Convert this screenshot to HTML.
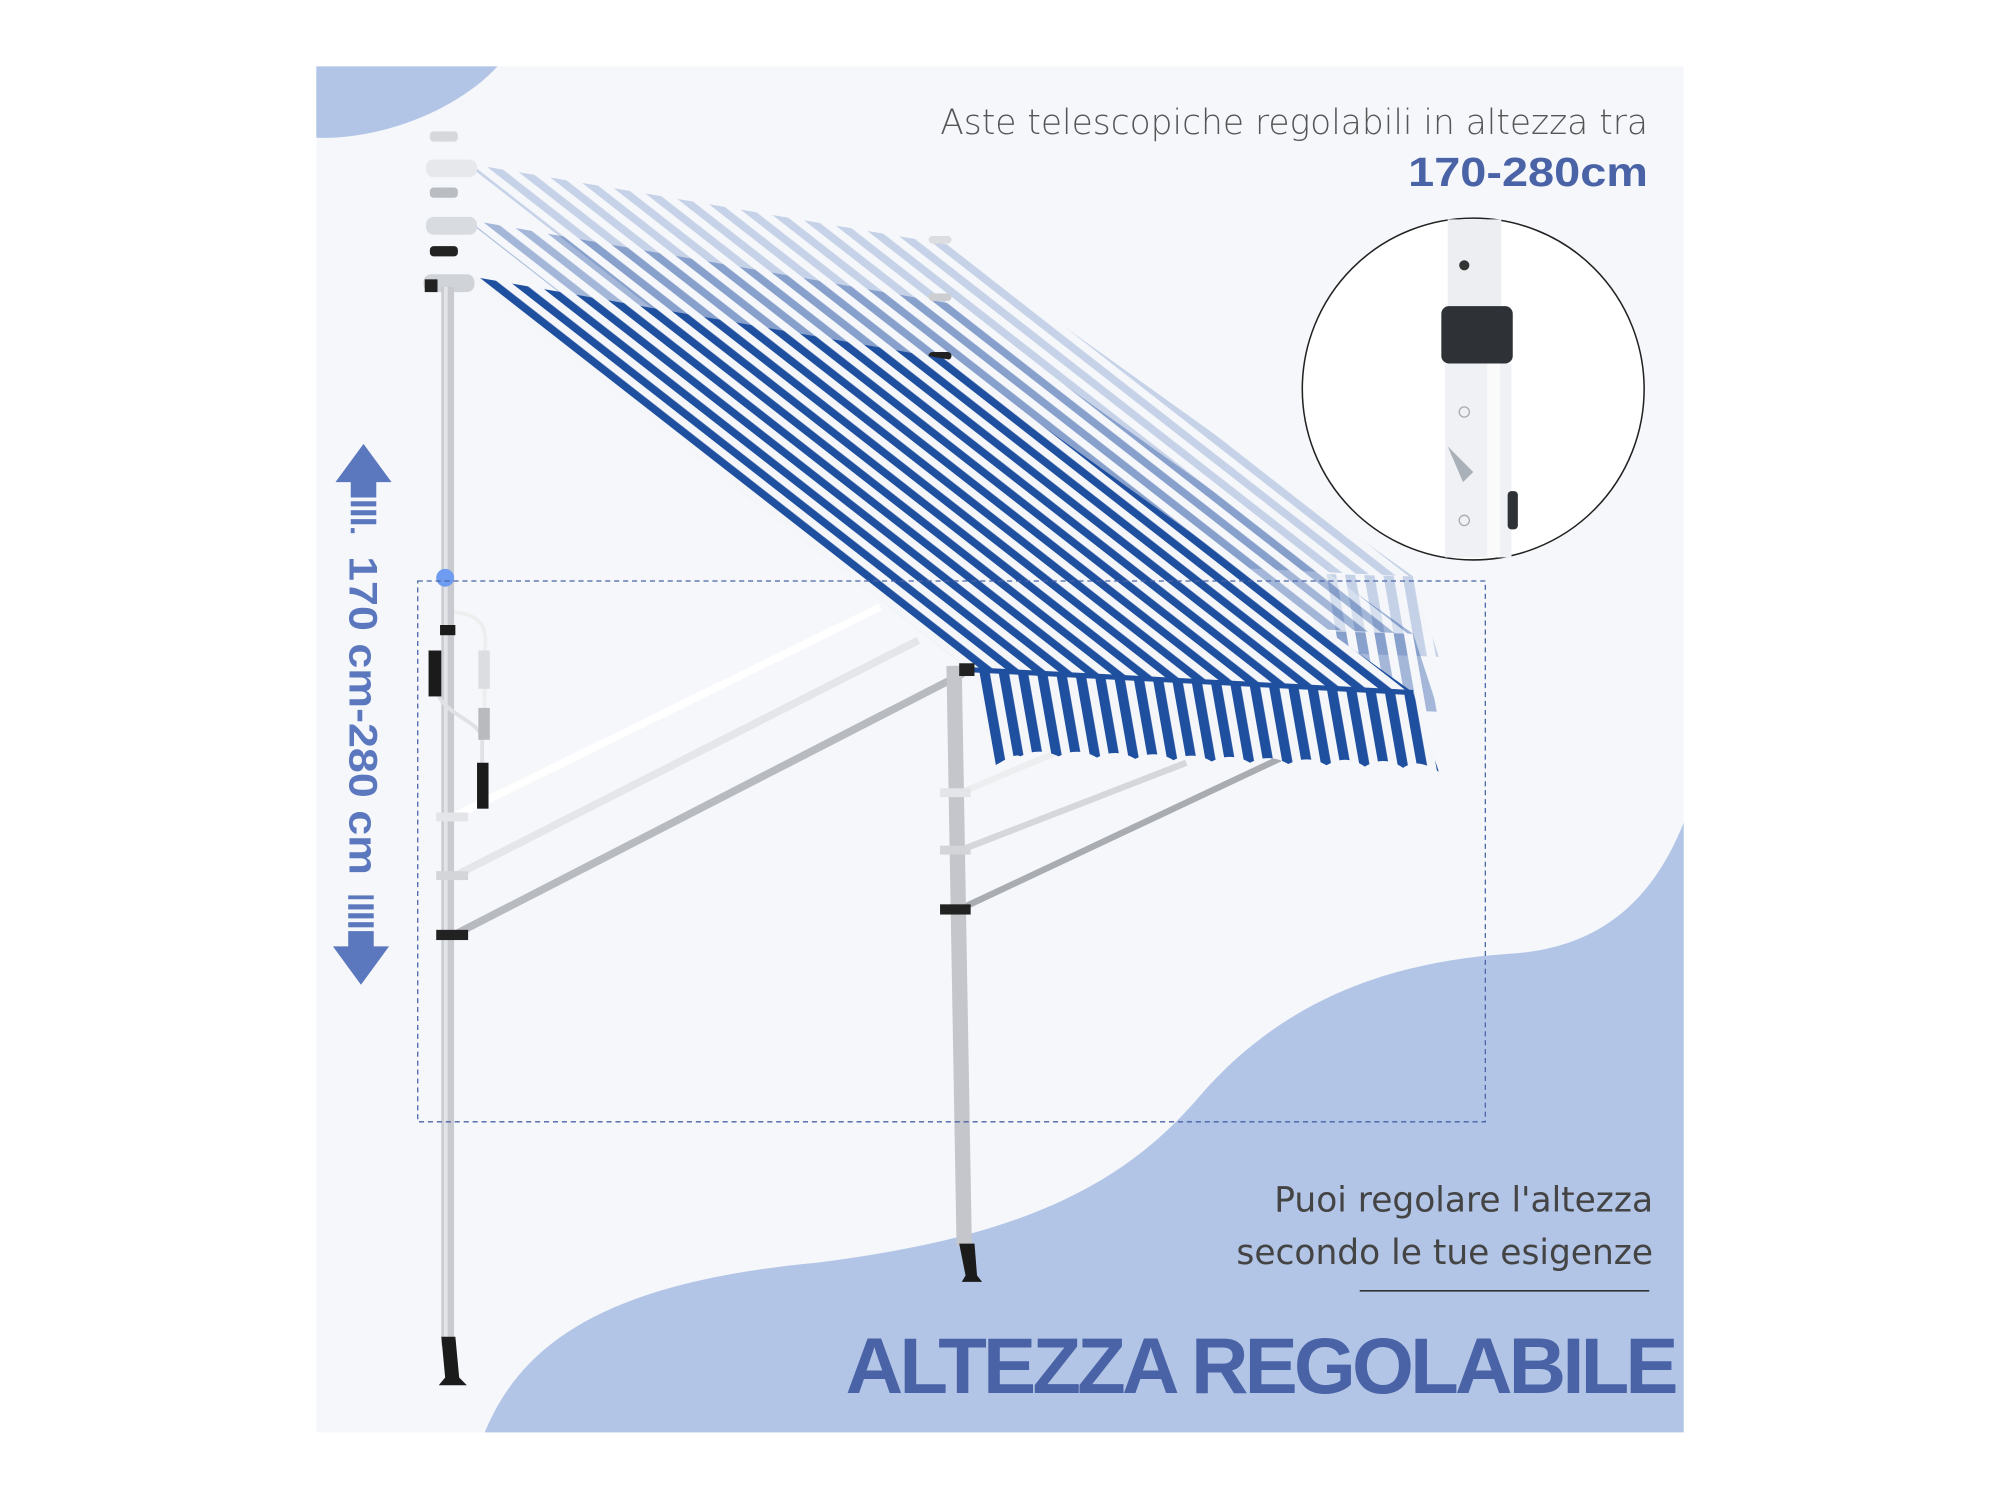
<!DOCTYPE html>
<html><head><meta charset="utf-8"><style>
html,body{margin:0;padding:0;background:#fff;}
svg{display:block}
</style></head><body>
<svg width="2000" height="1500" viewBox="0 0 1568 1176" preserveAspectRatio="none" xmlns="http://www.w3.org/2000/svg">
<defs>
<pattern id="st" width="12" height="12" patternUnits="userSpaceOnUse" patternTransform="rotate(-52)">
<rect width="12" height="12" fill="#f4f6fa"/><rect width="6" height="12" fill="#1f4f9f"/>
</pattern>
<pattern id="stv" width="15" height="20" patternUnits="userSpaceOnUse" patternTransform="skewX(10)">
<rect width="15" height="20" fill="#f4f6fa"/><rect width="8" height="20" fill="#1f4f9f"/>
</pattern>
</defs>
<rect x="0" y="0" width="1568" height="1176" fill="#fff"/>
<rect x="248" y="52" width="1072" height="1071" fill="#f5f7fb"/>
<path d="M248,52 L390,52 C360,85 300,110 248,108 Z" fill="#b2c5e6"/>
<path d="M1320,645 C1290,720 1240,745 1180,748 C1080,755 1000,790 940,860 C880,930 800,970 640,990 C480,1005 410,1050 380,1123 L1320,1123 Z" fill="#b2c5e6"/>

<!-- ghost awnings -->
<g opacity="0.22">
<polygon points="365,128 745,192 1108,452 760,435" fill="url(#st)"/>
<polygon points="1040,450 1108,452 1128,515 1050,512" fill="url(#stv)"/>
</g>
<g opacity="0.38">
<polygon points="365,172 745,238 1108,497 760,480" fill="url(#st)"/>
<polygon points="1040,495 1108,497 1128,558 1050,555" fill="url(#stv)"/>
</g>
<rect x="334" y="125" width="40" height="14" rx="6" fill="#e6e8ec"/>
<rect x="334" y="170" width="40" height="14" rx="6" fill="#d8dbe0"/>
<rect x="337" y="103" width="22" height="8" rx="3" fill="#d6d8dc"/>
<rect x="337" y="147" width="22" height="8" rx="3" fill="#b9bcc1"/>
<rect x="337" y="193" width="22" height="8" rx="3" fill="#222"/>
<rect x="728" y="185" width="18" height="6" rx="3" fill="#dcdde0"/>
<rect x="728" y="230" width="18" height="6" rx="3" fill="#ccced2"/>
<rect x="728" y="276" width="18" height="6" rx="3" fill="#222"/>

<!-- arms -->
<line x1="356" y1="640" x2="690" y2="476" stroke="#fff" stroke-width="6"/>
<line x1="356" y1="687" x2="720" y2="502" stroke="#e4e6ea" stroke-width="6"/>
<line x1="356" y1="733" x2="755" y2="528" stroke="#b7babf" stroke-width="6"/>
<line x1="752" y1="622" x2="840" y2="585" stroke="#eceef0" stroke-width="5"/>
<line x1="752" y1="667" x2="930" y2="598" stroke="#d5d7db" stroke-width="5"/>
<line x1="752" y1="713" x2="1005" y2="594" stroke="#a9acb1" stroke-width="5"/>

<!-- main awning -->
<polygon points="365,216 745,282 1108,543 760,525" fill="url(#st)"/>
<path d="M765,527 L1108,543 L1128,605 C1120,600 1110,595 1100,602 C1090,595 1080,595 1070,601 C1060,594 1050,594 1040,600 C1030,594 1020,594 1010,599 C1000,593 990,593 980,598 C970,592 960,592 950,597 C940,591 930,591 920,596 C910,590 900,590 890,595 C880,589 870,589 860,594 C850,588 840,588 830,593 C820,588 810,588 800,593 C795,590 785,598 780,600 Z" fill="url(#stv)"/>
<line x1="760" y1="525" x2="1108" y2="543" stroke="#1f4f9f" stroke-width="4"/>
<rect x="332" y="215" width="40" height="14" rx="6" fill="#d0d3d8"/>
<rect x="333" y="219" width="10" height="10" fill="#222"/>

<!-- poles -->
<rect x="346" y="225" width="10" height="830" fill="#c8cacf"/>
<rect x="348" y="225" width="3" height="830" fill="#e2e4e8"/>
<path d="M346,1048 L357,1048 L360,1080 L366,1086 L344,1086 L349,1080 Z" fill="#1b1b1b"/>
<rect x="742" y="522" width="12" height="455" fill="#c4c6cb" transform="rotate(-1 748 522)"/>
<path d="M752,975 L764,975 L766,1000 L770,1005 L754,1005 L757,1000 Z" fill="#1b1b1b"/>
<rect x="752" y="520" width="12" height="10" fill="#222"/>
<rect x="342" y="729" width="25" height="8" fill="#222"/>
<rect x="342" y="683" width="25" height="7" fill="#d3d5d9"/>
<rect x="342" y="637" width="25" height="7" fill="#e3e5e8"/>
<rect x="737" y="709" width="24" height="8" fill="#222"/>
<rect x="737" y="663" width="24" height="7" fill="#d3d5d9"/>
<rect x="737" y="618" width="24" height="7" fill="#e3e5e8"/>
<!-- crank -->
<path d="M356,480 C380,482 382,495 380,510 L380,560" stroke="#eee" stroke-width="3" fill="none"/>
<path d="M342,540 C345,560 378,565 378,580 L378,600" stroke="#dfe1e4" stroke-width="3" fill="none"/>
<rect x="375" y="510" width="9" height="30" fill="#dcdde0"/>
<rect x="375" y="555" width="9" height="25" fill="#b8babe"/>
<rect x="374" y="598" width="9" height="36" fill="#1b1b1b"/>
<rect x="336" y="510" width="10" height="36" fill="#1b1b1b"/>
<rect x="345" y="490" width="12" height="8" fill="#1b1b1b"/>
<circle cx="349" cy="453" r="7" fill="#6e9cf0"/>

<!-- dashed rect -->
<rect x="327.5" y="455.5" width="837" height="424" fill="none" stroke="#4a63a6" stroke-width="1" stroke-dasharray="4,3"/>

<!-- circle detail -->
<circle cx="1155" cy="305" r="134" fill="#fff" stroke="#222" stroke-width="1.2"/>
<rect x="1135" y="172" width="42" height="80" fill="#eceef1"/>
<rect x="1130" y="240" width="56" height="45" rx="6" fill="#2e3136"/>
<rect x="1133" y="285" width="52" height="152" fill="#eff1f4"/>
<rect x="1166" y="285" width="10" height="152" fill="#fafafa"/>
<circle cx="1148" cy="208" r="4" fill="#333"/>
<circle cx="1148" cy="323" r="4" fill="none" stroke="#aaa"/>
<circle cx="1148" cy="408" r="4" fill="none" stroke="#aaa"/>
<path d="M1135,350 L1155,370 L1147,378 Z" fill="#aab0b8"/>
<rect x="1182" y="385" width="8" height="30" rx="3" fill="#2e3136"/>

<!-- left arrow -->
<g fill="#5b77bd">
<polygon points="285,348 307,378 295,378 295,390 275,390 275,378 263,378"/>
<rect x="275" y="393" width="20" height="4"/><rect x="275" y="400" width="20" height="4"/><rect x="275" y="407" width="20" height="4"/><rect x="275" y="414" width="3" height="4"/>
<polygon points="283,772 261,742 273,742 273,730 293,730 293,742 305,742"/>
<rect x="273" y="723" width="20" height="4"/><rect x="273" y="716" width="20" height="4"/><rect x="273" y="709" width="20" height="4"/><rect x="273" y="702" width="20" height="3"/>
</g>
<text transform="translate(274,561) rotate(90)" text-anchor="middle" font-family="'Liberation Sans',sans-serif" font-size="31" fill="#5b77bd" font-weight="bold" textLength="250" lengthAdjust="spacingAndGlyphs">170 cm-280 cm</text>

<!-- texts -->
<text x="1292" y="105" text-anchor="end" font-family="'DejaVu Sans','Liberation Sans',sans-serif" font-size="27" fill="#555" font-weight="300">Aste telescopiche regolabili in altezza tra</text>
<text x="1292" y="146" text-anchor="end" font-family="'Liberation Sans',sans-serif" font-size="32" fill="#4a63a6" font-weight="bold" textLength="188" lengthAdjust="spacingAndGlyphs">170-280cm</text>
<text x="1296" y="950" text-anchor="end" font-family="'DejaVu Sans','Liberation Sans',sans-serif" font-size="27" fill="#444">Puoi regolare l'altezza</text>
<text x="1296" y="991" text-anchor="end" font-family="'DejaVu Sans','Liberation Sans',sans-serif" font-size="27" fill="#444">secondo le tue esigenze</text>
<line x1="1066" y1="1012" x2="1293" y2="1012" stroke="#333" stroke-width="1.2"/>
<text x="1313" y="1092" text-anchor="end" font-family="'Liberation Sans',sans-serif" font-size="62" fill="#4a63a6" font-weight="bold" letter-spacing="-3" textLength="650" lengthAdjust="spacingAndGlyphs">ALTEZZA REGOLABILE</text>
</svg>
</body></html>
